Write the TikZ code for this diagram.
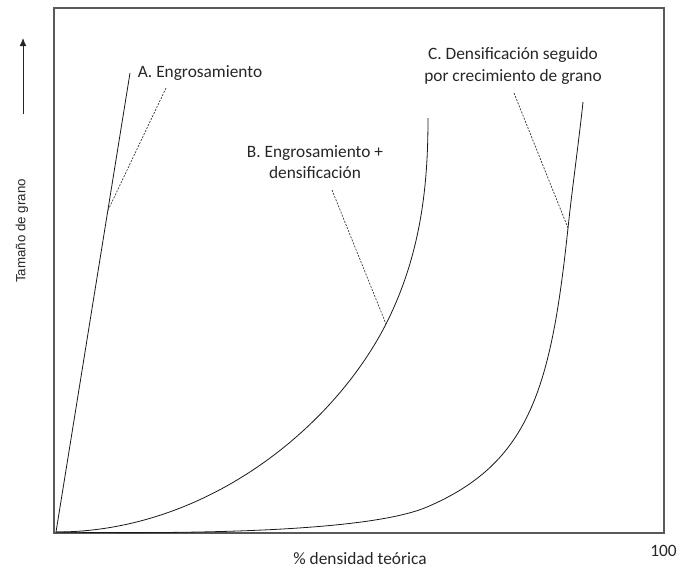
\documentclass[tikz,border=0pt]{standalone}
\usepackage{fontspec}
\setmainfont{Carlito}
\newfontfamily\axisfont{Liberation Sans}
\usetikzlibrary{arrows.meta}
\tikzset{
    line cap=round,line join=round,
    frame box/.style={draw=black!65, line width=0.9pt},
    grain curve/.style={draw=black!90, line width=0.6pt},
    leader line/.style={draw=black!80, line width=0.5pt, dash pattern=on 1.5pt off 1pt},
    curve label/.style={align=center, inner sep=0pt, text=black!85,
        font=\fontsize{13}{16}\selectfont},
    axis label/.style={inner sep=0pt, text=black!85, font=\fontsize{13}{16}\selectfont},
}

\begin{document}
\begin{tikzpicture}[x=0.75pt,y=-0.75pt]
    \useasboundingbox (0,0) rectangle (678,569);
    \draw[frame box] (54,8) rectangle (664,533);

    \coordinate (o) at (56,532);
    \coordinate (arrow foot) at (23,114);
    \coordinate (arrow tip) at (23,38);
    \draw[draw=black!85, line width=0.6pt, -{Latex[length=6pt,width=5pt]}] (arrow foot) -- (arrow tip);
    \node[rotate=90, inner sep=0pt, text=black!85, font=\axisfont\fontsize{10}{12}\selectfont] (ylab) at (22,231) {Tamaño de grano};
    \node[axis label] (xlab) at (360,559) {\% densidad teórica};
    \node[axis label, anchor=east] (xmax) at (677,551) {100};

    \draw[grain curve] (o) -- coordinate[pos=0.7] (a1) (130,73) coordinate (a end);
    \draw[grain curve] (o) .. controls (206,532) and (333,428) .. (386,324) coordinate (b1)
        .. controls (423,251) and (428,178) .. (428,118) coordinate (b end);
    \draw[grain curve] (o) .. controls (250,535) and (380,527) .. (427,507)
        .. controls (530,463) and (551,388) .. (568,228) coordinate (c1)
        .. controls (572,190) and (579,140) .. (583,102) coordinate (c end);

    \node[curve label] (lab a) at (200,73) {A. Engrosamiento};
    \node[curve label] (lab b) at (315,162) {B. Engrosamiento +\\densificación};
    \node[curve label] (lab c) at (513,66) {C. Densificación seguido\\por crecimiento de grano};

    \coordinate (a0) at (166,88);
    \coordinate (b0) at (332,190);
    \coordinate (c0) at (514,93);
    \draw[leader line] (a0) -- (a1);
    \draw[leader line] (b0) -- (b1);
    \draw[leader line] (c0) -- (c1);
\end{tikzpicture}
\end{document}
